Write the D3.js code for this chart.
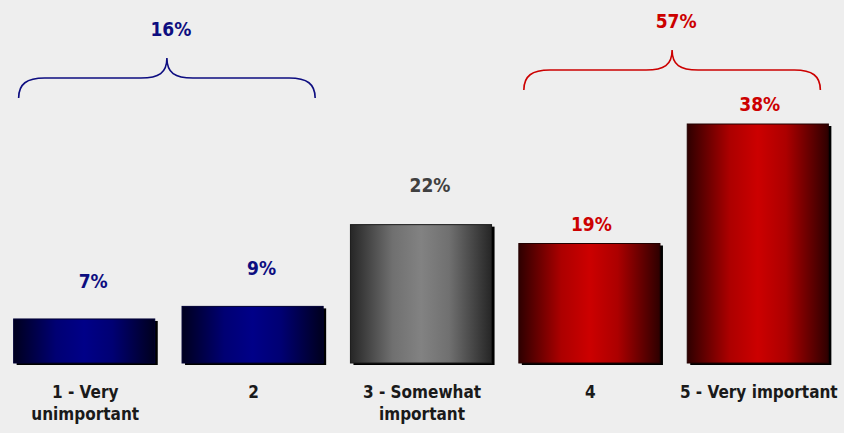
<!DOCTYPE html>
<html><head><meta charset="utf-8">
<script src="https://cdn.jsdelivr.net/npm/d3@7"></script>
<style>
html,body{margin:0;padding:0;background:#eeeeee;}
svg{display:block;}
text{font-family:"DejaVu Sans Condensed","DejaVu Sans",Verdana,sans-serif;font-weight:bold;}
</style></head>
<body>
<svg id="chart" width="844" height="433"></svg>
<script>
const categories = ["1 - Very|unimportant", "2", "3 - Somewhat|important", "4", "5 - Very important"];
const values = [7, 9, 22, 19, 38];
const valueLabels = ["7%", "9%", "22%", "19%", "38%"];
const colorGroups = ["blue", "blue", "gray", "red", "red"];
const braceStart = [0, 3];
const braceEnd = [1, 4];
const braceLabels = ["16%", "57%"];
const braceGroups = ["blue", "red"];

const palette = {
  blue: {edge: "#00001e", mid: "#000088", text: "#0d0d80", stroke: "#000033"},
  gray: {edge: "#262626", mid: "#828282", text: "#404040", stroke: "#1a1a1a"},
  red:  {edge: "#2e0000", mid: "#cc0000", text: "#cc0000", stroke: "#220000"}
};
const labelGap = {blue: 31, gray: 33, red: 13};
const labelDx = {blue: 9, gray: 9, red: 2};

const svg = d3.select("#chart");
const x = d3.scaleBand().domain(d3.range(categories.length)).range([0, 842]).paddingInner(0.162).paddingOuter(0.081);
const y = d3.scaleLinear().domain([0, 38]).range([363, 124]);

const defs = svg.append("defs");
Object.entries(palette).forEach(([k, p]) => {
  const g = defs.append("linearGradient").attr("id", "g-" + k).attr("x1", "0%").attr("x2", "100%").attr("y1", "0%").attr("y2", "0%");
  g.append("stop").attr("offset", "0%").attr("stop-color", p.edge);
  g.append("stop").attr("offset", "30%").attr("stop-color", d3.interpolateRgb(p.edge, p.mid)(0.8));
  g.append("stop").attr("offset", "50%").attr("stop-color", p.mid);
  g.append("stop").attr("offset", "70%").attr("stop-color", d3.interpolateRgb(p.edge, p.mid)(0.8));
  g.append("stop").attr("offset", "100%").attr("stop-color", p.edge);
});

const idx = d3.range(categories.length);
// shadows
svg.append("g").selectAll("rect").data(idx).join("rect")
  .attr("x", i => x(i) + 3).attr("y", i => y(values[i]) + 2)
  .attr("width", x.bandwidth()).attr("height", i => y(0) - y(values[i]))
  .attr("fill", "#000");
// bars
svg.append("g").selectAll("rect").data(idx).join("rect")
  .attr("x", i => x(i)).attr("y", i => y(values[i]))
  .attr("width", x.bandwidth()).attr("height", i => y(0) - y(values[i]))
  .attr("fill", i => `url(#g-${colorGroups[i]})`)
  .attr("stroke", i => palette[colorGroups[i]].stroke).attr("stroke-width", 1);

// value labels
svg.append("g").selectAll("text").data(idx).join("text")
  .attr("x", i => x(i) + x.bandwidth() / 2 + labelDx[colorGroups[i]])
  .attr("y", i => y(values[i]) - labelGap[colorGroups[i]])
  .attr("text-anchor", "middle").attr("font-size", 19)
  .attr("fill", i => palette[colorGroups[i]].text)
  .text(i => valueLabels[i]);

// category labels
const cl = svg.append("g").selectAll("text").data(idx).join("text")
  .attr("x", i => x(i) + x.bandwidth() / 2 + 1)
  .attr("y", 398)
  .attr("text-anchor", "middle").attr("font-size", 17).attr("fill", "#1a1a1a");
cl.each(function(i) {
  const lines = categories[i].split("|");
  d3.select(this).selectAll("tspan").data(lines).join("tspan")
    .attr("x", x(i) + x.bandwidth() / 2 + 1)
    .attr("dy", (d, j) => j === 0 ? 0 : 22)
    .text(d => d);
});

// braces
braceLabels.forEach((lab, k) => {
  const x0 = x(braceStart[k]) + 5;
  const x1 = x(braceEnd[k]) + x.bandwidth() - 8;
  const tip = (x0 + x1) / 2;
  const base = braceGroups[k] === "blue" ? 98 : 90;
  const yh = base - 20, yt = base - 40;
  const r = 26;
  const p = `M${x0},${base} C${x0},${yh + 6} ${x0 + 8},${yh} ${x0 + r},${yh} L${tip - r},${yh} C${tip - 8},${yh} ${tip},${yh - 5} ${tip},${yt} C${tip},${yh - 5} ${tip + 8},${yh} ${tip + r},${yh} L${x1 - r},${yh} C${x1 - 8},${yh} ${x1},${yh + 6} ${x1},${base}`;
  const c = palette[braceGroups[k]].text;
  svg.append("path").attr("d", p).attr("fill", "none").attr("stroke", c).attr("stroke-width", 1.6);
  svg.append("text").attr("x", tip + 4).attr("y", yt - 22).attr("text-anchor", "middle")
    .attr("font-size", 19).attr("fill", c).text(lab);
});
</script>
</body></html>
